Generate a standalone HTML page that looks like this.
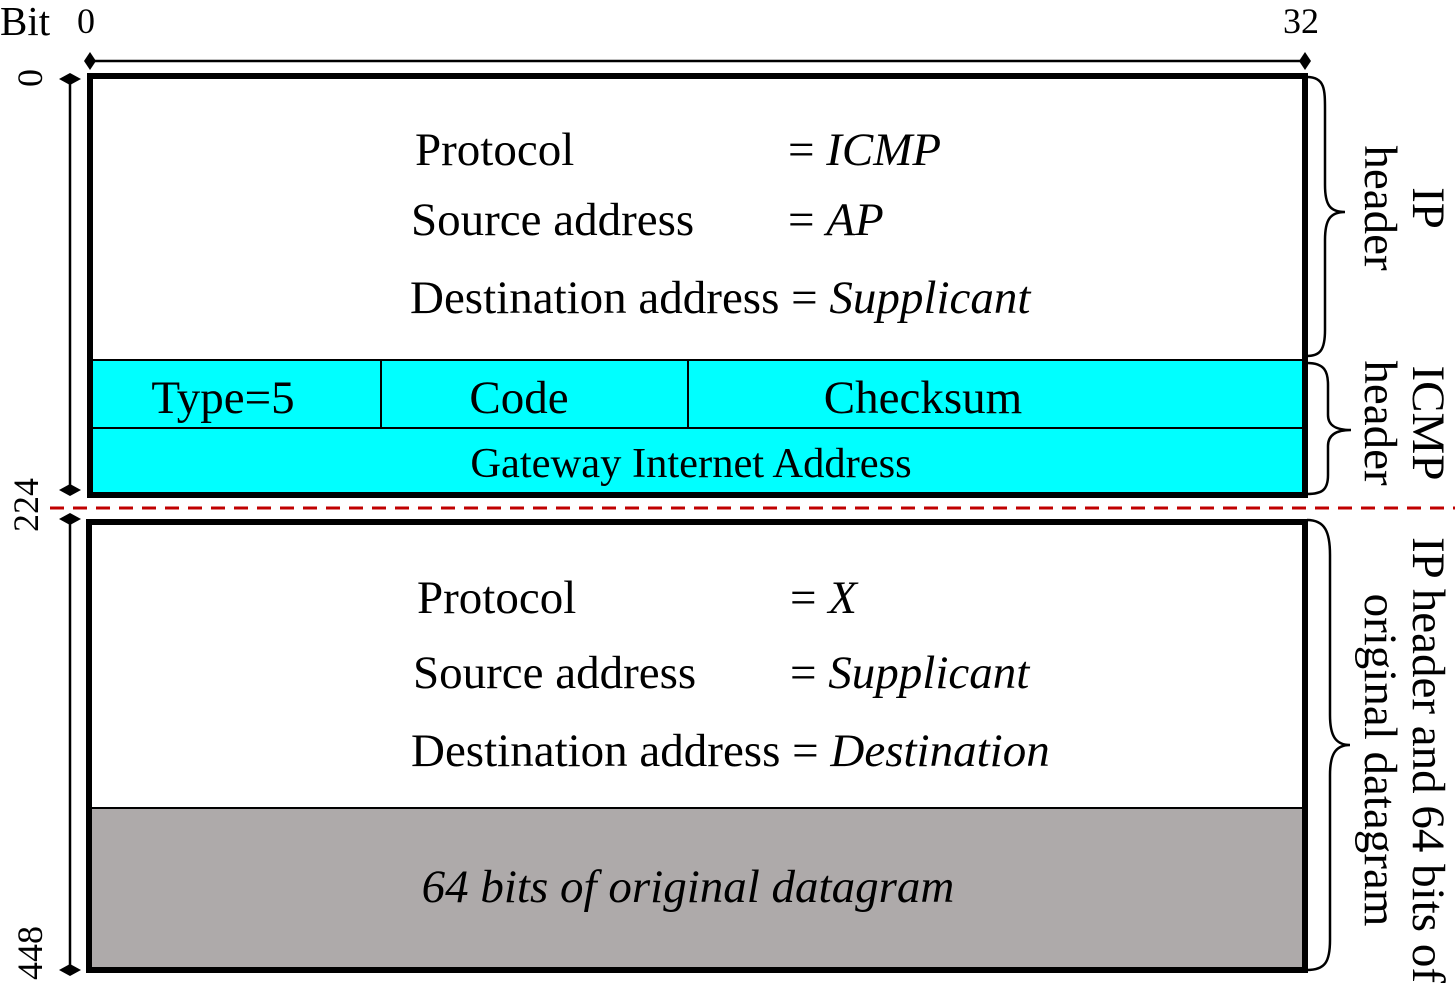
<!DOCTYPE html>
<html><head><meta charset="utf-8"><style>
html,body{margin:0;padding:0;background:#fff;}
svg{display:block;font-family:"Liberation Serif",serif;}
</style></head><body>
<svg width="1455" height="991" viewBox="0 0 1455 991" xmlns="http://www.w3.org/2000/svg">
<text x="0" y="35" font-size="41">Bit</text>
<text x="86" y="33" font-size="36" text-anchor="middle">0</text>
<text x="1301" y="33" font-size="36" text-anchor="middle">32</text>
<line x1="90" y1="61" x2="1305" y2="61" stroke="#000" stroke-width="2.5"/>
<polygon points="90,52 96,61 90,70 84,61" fill="#000"/>
<polygon points="1305,52 1311,61 1305,70 1299,61" fill="#000"/>
<line x1="70" y1="79" x2="70" y2="490" stroke="#000" stroke-width="2.5"/>
<line x1="70" y1="519" x2="70" y2="970" stroke="#000" stroke-width="2.5"/>
<polygon points="59,79 70,73 81,79 70,85" fill="#000"/>
<polygon points="59,490 70,484 81,490 70,496" fill="#000"/>
<polygon points="59,519 70,513 81,519 70,525" fill="#000"/>
<polygon points="59,970 70,964 81,970 70,976" fill="#000"/>
<text transform="rotate(-90 30 78)" x="30" y="78" font-size="36" text-anchor="middle" dominant-baseline="central">0</text>
<text transform="rotate(-90 26 505)" x="26" y="505" font-size="36" text-anchor="middle" dominant-baseline="central">224</text>
<text transform="rotate(-90 30 953)" x="30" y="953" font-size="36" text-anchor="middle" dominant-baseline="central">448</text>
<rect x="90" y="360" width="1215" height="135" fill="#00ffff"/>
<line x1="90" y1="360" x2="1305" y2="360" stroke="#000" stroke-width="2"/>
<line x1="90" y1="428" x2="1305" y2="428" stroke="#000" stroke-width="2"/>
<line x1="381" y1="360" x2="381" y2="428" stroke="#000" stroke-width="2"/>
<line x1="688" y1="360" x2="688" y2="428" stroke="#000" stroke-width="2"/>
<rect x="90" y="76" width="1215" height="419" fill="none" stroke="#000" stroke-width="6"/>
<g font-size="47">
<text x="415" y="165">Protocol</text>
<text x="788" y="165">= <tspan font-style="italic">ICMP</tspan></text>
<text x="411" y="235">Source address</text>
<text x="788" y="235">= <tspan font-style="italic">AP</tspan></text>
<text x="410" y="313">Destination address = <tspan font-style="italic">Supplicant</tspan></text>
<text x="223" y="413" text-anchor="middle">Type=5</text>
<text x="519" y="413" text-anchor="middle">Code</text>
<text x="923" y="413" text-anchor="middle">Checksum</text>
</g>
<text x="691" y="477" font-size="42.5" text-anchor="middle">Gateway Internet Address</text>
<line x1="50" y1="508" x2="1455" y2="508" stroke="#c00000" stroke-width="3" stroke-dasharray="14,9"/>
<rect x="89" y="808" width="1216" height="162" fill="#aeaaaa"/>
<line x1="89" y1="808" x2="1305" y2="808" stroke="#000" stroke-width="2"/>
<rect x="89" y="522" width="1216" height="448" fill="none" stroke="#000" stroke-width="6"/>
<g font-size="47">
<text x="417" y="613">Protocol</text>
<text x="790" y="613">= <tspan font-style="italic">X</tspan></text>
<text x="413" y="688">Source address</text>
<text x="790" y="688">= <tspan font-style="italic">Supplicant</tspan></text>
<text x="411" y="766">Destination address = <tspan font-style="italic">Destination</tspan></text>
<text x="688" y="902" text-anchor="middle" font-style="italic">64 bits of original datagram</text>
</g>
<g fill="none" stroke="#000" stroke-width="2.5">
<path d="M1307,77 C1325,77 1325,90 1325,110 L1325,185 C1325,205 1330,212 1345,212 C1330,212 1325,220 1325,240 L1325,330 C1325,350 1320,356 1307,356"/>
<path d="M1307,363 C1325,363 1328,372 1328,385 L1328,415 C1328,425 1335,430 1351,430 C1335,430 1328,436 1328,446 L1328,475 C1328,490 1322,494 1307,494"/>
<path d="M1307,520 C1325,520 1330,532 1330,555 L1330,715 C1330,735 1335,745 1350,745 C1335,745 1330,755 1330,775 L1330,940 C1330,962 1325,970 1307,970"/>
</g>
<g font-size="47" text-anchor="middle" dominant-baseline="central">
<text transform="rotate(90 1428 208)" x="1428" y="208">IP</text>
<text transform="rotate(90 1380 208)" x="1380" y="208">header</text>
<text transform="rotate(90 1428 423)" x="1428" y="423">ICMP</text>
<text transform="rotate(90 1380 423)" x="1380" y="423">header</text>
<text transform="rotate(90 1428 760)" x="1428" y="760">IP header and 64 bits of</text>
<text transform="rotate(90 1380 760)" x="1380" y="760">original datagram</text>
</g>
</svg>
</body></html>
